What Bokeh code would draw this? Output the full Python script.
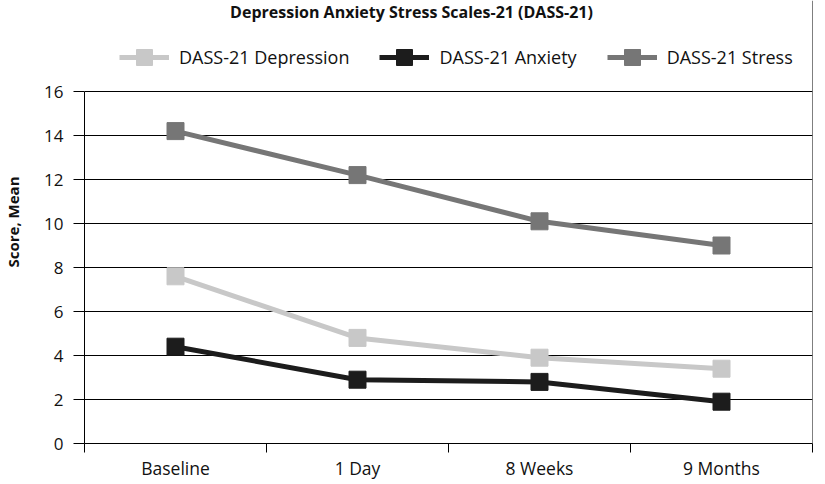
from bokeh.plotting import figure
from bokeh.models import FixedTicker, Legend, LegendItem, Label, Range1d
from bokeh.embed import file_html
from bokeh.resources import INLINE

categories = ["Baseline", "1 Day", "8 Weeks", "9 Months"]
depression = [7.6, 4.8, 3.9, 3.4]
anxiety = [4.4, 2.9, 2.8, 1.9]
stress = [14.2, 12.2, 10.1, 9.0]
series_names = ["DASS-21 Depression", "DASS-21 Anxiety", "DASS-21 Stress"]
series_colors = ["#c8c8c8", "#1c1c1c", "#767676"]
y_ticks = [0, 2, 4, 6, 8, 10, 12, 14, 16]
title_text = "Depression Anxiety Stress Scales-21 (DASS-21)"
y_label = "Score, Mean"

FONT = "Open Sans"
n = len(categories)
xs = [i + 0.5 for i in range(n)]

FRAME_W, FRAME_H = 728, 443
AXIS_PX = 352           # pixel height of the 0..16 axis span
y_top = y_ticks[-1] * FRAME_H / AXIS_PX   # extra headroom for title + legend

p = figure(frame_width=FRAME_W, frame_height=FRAME_H, output_backend="svg",
           toolbar_location=None, title_location=None,
           x_range=Range1d(0, n), y_range=Range1d(y_ticks[0], y_top),
           min_border_left=80, min_border_right=1, min_border_bottom=33, min_border_top=0)
p.background_fill_color = "white"
p.border_fill_color = "white"
p.outline_line_color = None

# axes
xa = p.xaxis[0]
xa.ticker = FixedTicker(ticks=xs, minor_ticks=list(range(n + 1)))
xa.major_label_overrides = {x: c for x, c in zip(xs, categories)}
xa.major_tick_line_color = None
xa.major_tick_out = 0
xa.minor_tick_out = 9
xa.minor_tick_in = 0
xa.minor_tick_line_color = "black"
xa.axis_line_color = "black"
xa.major_label_text_font = FONT
xa.major_label_text_font_size = "17.5px"
xa.major_label_text_color = "#111111"
xa.major_label_standoff = 3

ya = p.yaxis[0]
ya.ticker = FixedTicker(ticks=y_ticks)
ya.bounds = (y_ticks[0], y_ticks[-1])
ya.major_tick_out = 11
ya.major_tick_in = 0
ya.minor_tick_line_color = None
ya.axis_line_color = "black"
ya.major_tick_line_color = "black"
ya.major_label_text_font = FONT
ya.major_label_text_font_size = "17px"
ya.major_label_text_color = "#111111"
ya.major_label_standoff = 10
ya.axis_label = y_label
ya.axis_label_text_font = FONT
ya.axis_label_text_font_size = "15px"
ya.axis_label_text_font_style = "bold"
ya.axis_label_text_color = "#111111"
ya.axis_label_standoff = 18

p.xgrid.ticker = FixedTicker(ticks=[n - 0.001])
p.xgrid.bounds = (y_ticks[0], y_ticks[-1])
p.xgrid.grid_line_color = "black"
p.xgrid.grid_line_width = 1
p.ygrid.ticker = FixedTicker(ticks=y_ticks)
p.ygrid.grid_line_color = "black"
p.ygrid.grid_line_width = 1

items = []
for name, vals, col in zip(series_names, [depression, anxiety, stress], series_colors):
    lr = p.line(xs, vals, line_color=col, line_width=5)
    sr = p.scatter(xs, vals, marker="square", size=17, fill_color=col, line_color=col)
    items.append(LegendItem(label=name, renderers=[lr, sr]))

legend = Legend(items=items, orientation="horizontal", location=(35, 366),
                glyph_width=50, glyph_height=40, label_standoff=10, spacing=30,
                padding=0, margin=0, border_line_color=None, background_fill_alpha=0,
                label_text_font=FONT, label_text_font_size="18px", label_text_color="#111111")
p.add_layout(legend, "center")

# chart title, centred on the page
title_x = n * (407 - 80) / FRAME_W
p.add_layout(Label(x=title_x, y=y_top, text=title_text, text_font=FONT,
                   text_font_size="16px", text_font_style="bold", text_color="#111111",
                   text_align="center", text_baseline="top"))

open("out.html", "w").write(file_html(p, INLINE))
